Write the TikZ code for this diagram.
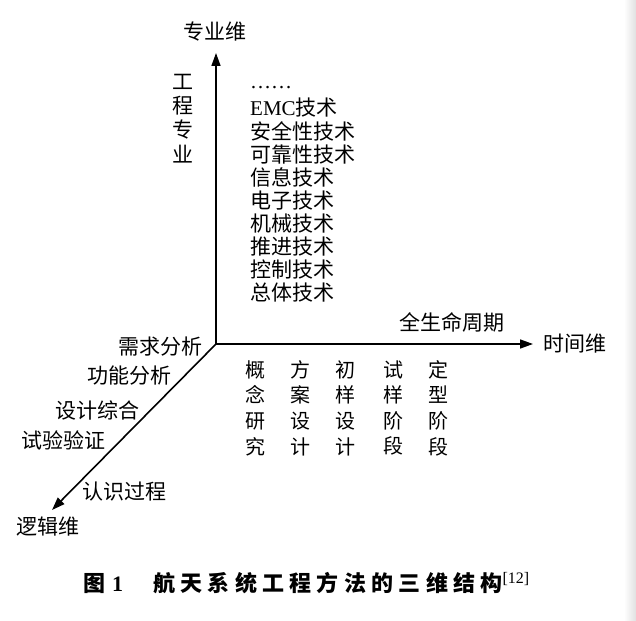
\documentclass[tikz,border=0pt]{standalone}
\usepackage{fontspec}
\setmainfont{Liberation Serif}
\newfontfamily\cjk{Noto Sans CJK SC}
\usetikzlibrary{arrows.meta}

\tikzset{
	axis/.style={line width=1.6pt, line cap=round, -{Triangle[length=13pt,width=9pt]}},
	lbl/.style={font=\cjk\fontsize{21}{25}\selectfont, inner sep=0pt},
	col/.style={lbl, align=center, font=\cjk\fontsize{20}{25.6}\selectfont}
}

\begin{document}
\begin{tikzpicture}[x=1pt,y=-1pt]
				\useasboundingbox (0,0) rectangle (636,620);
				\shade[left color=white, right color=black!12] (624,0) rectangle (636,620);
	
				% axes
				\coordinate (O) at (216,344);
				\coordinate (zyTip) at (216,53);
				\coordinate (sjTip) at (533,344);
				\coordinate (ljTip) at (52,510);
				\draw[axis] (O) -- (zyTip);
				\draw[axis] (O) -- (sjTip);
				\draw[axis] (O) -- (ljTip);
	
				\node[lbl] (zyw) at (215,32) {专业维};
				\node[lbl, anchor=west] (sjw) at (543,344) {时间维};
				\node[lbl] (ljw) at (48,527) {逻辑维};
	
				% professional dimension
				\node[lbl, align=center, font=\cjk\fontsize{21}{24.3}\selectfont] (gczy) at (183,118.5) {工\\程\\专\\业};
				\node[lbl, anchor=west, font=\rmfamily\fontsize{21}{25}\selectfont] (js0) at (250,88) {……};
				\foreach \t [count=\i] in {{{\rmfamily EMC}技术},安全性技术,可靠性技术,信息技术,电子技术,机械技术,推进技术,控制技术,总体技术}
					\node[lbl, anchor=west] (js\i) at (250,108+23.1*\i-23.1) {\t};
	
				% time dimension
				\node[lbl] (qsm) at (452,322) {全生命周期};
				\node[col] (jd1) at (255,408) {概\\念\\研\\究};
				\node[col] (jd2) at (300,408) {方\\案\\设\\计};
				\node[col] (jd3) at (345,408) {初\\样\\设\\计};
				\node[col] (jd4) at (393,408) {试\\样\\阶\\段};
				\node[col] (jd5) at (438,408) {定\\型\\阶\\段};
	
				% logic dimension
				\node[lbl, anchor=east] (xqfx) at (203,347) {需求分析};
				\node[lbl, anchor=east] (gnfx) at (172,376) {功能分析};
				\node[lbl, anchor=east] (sjzh) at (140,410) {设计综合};
				\node[lbl, anchor=east] (syyz) at (106,440) {试验验证};
				\node[lbl, anchor=west] (rsgc) at (82,492) {认识过程};
	
				% caption
				\node[anchor=west, inner sep=0pt, font=\cjk\bfseries\fontsize{22}{26}\selectfont] (cap) at (83,583)
					{图\hspace{7pt}{\rmfamily 1}\hspace{30pt}{\addfontfeatures{LetterSpace=24}航天系统工程方法的三维结构}{\rmfamily\mdseries\fontsize{16}{18}\selectfont\raisebox{8pt}{[12]}}};
			\end{tikzpicture}
\end{document}
